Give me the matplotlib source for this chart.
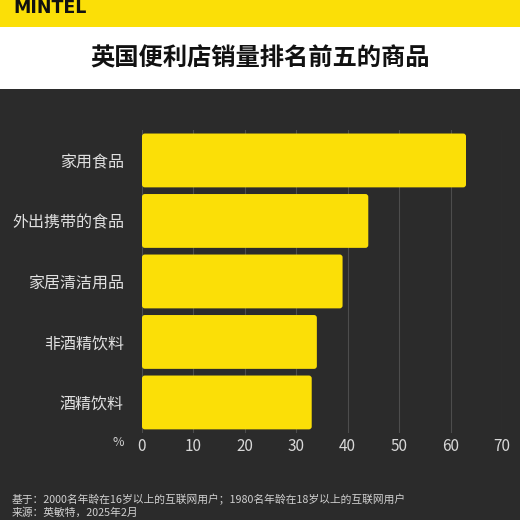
import matplotlib.pyplot as plt
from matplotlib.patches import FancyBboxPatch, Rectangle

plt.rcParams['font.family'] = ['Noto Sans CJK SC', 'DejaVu Sans']

categories = ['家用食品', '外出携带的食品', '家居清洁用品', '非酒精饮料', '酒精饮料']
values = [63, 44, 39, 34, 33]
xticks = [0, 10, 20, 30, 40, 50, 60, 70]

title = '英国便利店销量排名前五的商品'
note1 = '基于：2000名年龄在16岁以上的互联网用户；1980名年龄在18岁以上的互联网用户'
note2 = '来源：英敏特，2025年2月'

yellow = '#fbdf07'
dark = '#2b2b2b'
W = 520

fig = plt.figure(figsize=(5.2, 5.2), dpi=100, facecolor=dark)

# header bands
fig.patches.append(Rectangle((0, 1 - 27 / W), 1, 27 / W, transform=fig.transFigure,
                             facecolor=yellow, edgecolor='none', zorder=0))
fig.patches.append(Rectangle((0, 1 - 89 / W), 1, 62 / W, transform=fig.transFigure,
                             facecolor='white', edgecolor='none', zorder=0))
fig.text(13 / W, 1 - 13 / W, 'MINTEL', fontsize=12.5, fontweight='bold', color='#111111',
         family='DejaVu Sans', va='baseline', ha='left')
fig.text(0.5, 1 - 58 / W, title, fontsize=17.5, fontweight='bold', color='#111111',
         ha='center', va='center')

ax = fig.add_axes([142 / W, 1 - 432.7 / W, 360 / W, 302.5 / W])
ax.set_facecolor(dark)
ax.set_xlim(0, 70)
ax.set_ylim(len(categories) - 0.5, -0.5)

bars = ax.barh(range(len(categories)), values, height=0.89, color=yellow, zorder=3)
# swap plain rectangles for slightly rounded ones
x_per_px = 70 / 360
y_per_px = 5 / 302.5
for b in bars:
    b.set_visible(False)
    ax.add_patch(FancyBboxPatch((b.get_x(), b.get_y()), b.get_width(), b.get_height(),
                                boxstyle='round,pad=0,rounding_size=0.55',
                                mutation_aspect=y_per_px / x_per_px,
                                facecolor=yellow, edgecolor='none', zorder=3))

ax.set_xticks(xticks)
ax.set_xticklabels([str(t) for t in xticks])
ax.set_yticks(range(len(categories)))
ax.set_yticklabels(categories)
ax.tick_params(axis='x', length=0, pad=4, labelsize=11, labelcolor='#d8d8d8')
ax.tick_params(axis='y', length=0, pad=13, labelsize=11.5, labelcolor='#e0e0e0')
for s in ax.spines.values():
    s.set_visible(False)
ax.grid(axis='x', color='#4d4d4d', linewidth=0.8, zorder=0)
ax.set_axisbelow(True)

fig.text(118 / W, 1 - 442 / W, '%', fontsize=9, color='#cfcfcf', ha='center', va='center')

fig.text(12 / W, 1 - 499 / W, note1, fontsize=7.75, color='#d0d0d0', ha='left', va='center')
fig.text(12 / W, 1 - 513 / W, note2, fontsize=7.75, color='#d0d0d0', ha='left', va='center')

fig.savefig('out.png', dpi=100, facecolor=dark)
